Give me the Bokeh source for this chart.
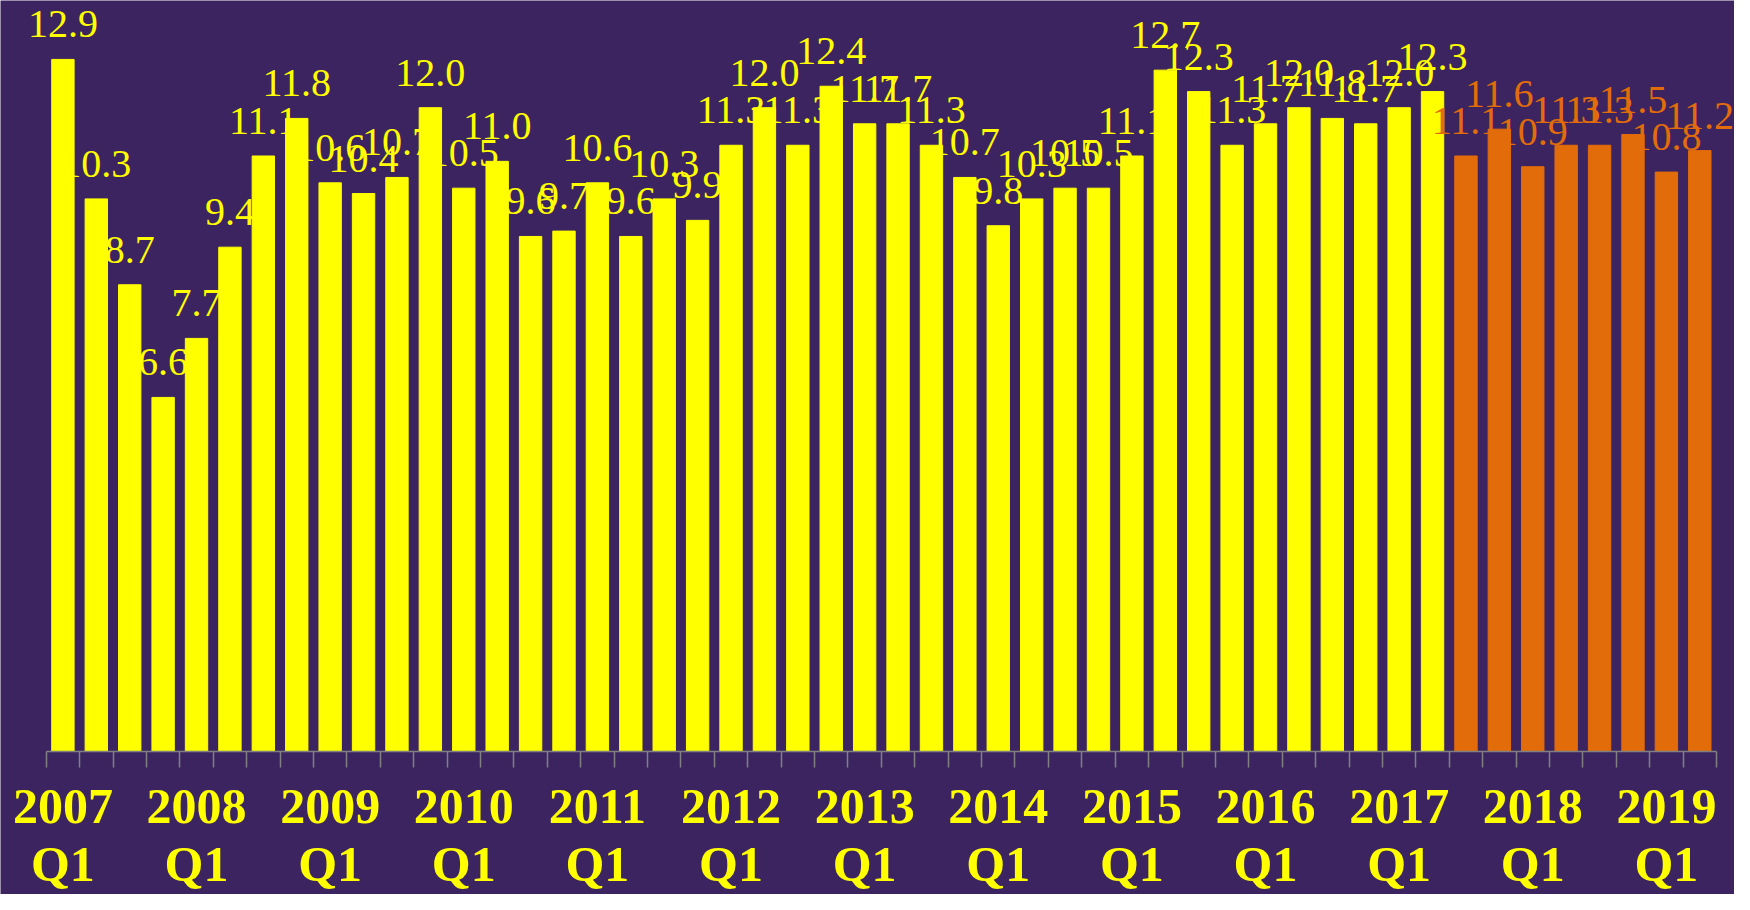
from bokeh.plotting import figure
from bokeh.models import ColumnDataSource, Range1d, FixedTicker
from bokeh.core.properties import value
from bokeh.embed import file_html
from bokeh.resources import INLINE

# ---- data ----
years = [2007, 2008, 2009, 2010, 2011, 2012, 2013, 2014, 2015, 2016, 2017, 2018, 2019]
quarters = ["Q1", "Q2", "Q3", "Q4"]
actual = [12.9, 10.3, 8.7, 6.6,
          7.7, 9.4, 11.1, 11.8,
          10.6, 10.4, 10.7, 12.0,
          10.5, 11.0, 9.6, 9.7,
          10.6, 9.6, 10.3, 9.9,
          11.3, 12.0, 11.3, 12.4,
          11.7, 11.7, 11.3, 10.7,
          9.8, 10.3, 10.5, 10.5,
          11.1, 12.7, 12.3, 11.3,
          11.7, 12.0, 11.8, 11.7,
          12.0, 12.3]
forecast = [11.1, 11.6, 10.9, 11.3, 11.3, 11.5, 10.8, 11.2]

categories = [f"{y} {q}" for y in years for q in quarters][:len(actual) + len(forecast)]

BG = "#3C2460"
YELLOW = "#FFFF00"
ORANGE = "#E36C0A"
GRAY = "#808080"
FONT = "Liberation Serif"

vals = actual + forecast
n = len(vals)
idx = list(range(n))
colors = [YELLOW] * len(actual) + [ORANGE] * len(forecast)
src = ColumnDataSource(dict(x=idx, top=vals, color=colors,
                            label=[f"{v:.1f}" for v in vals]))

W, H = 1734, 894
px_x = 33.406          # pixels per category
left_edge = 45.7       # pixel of the first category edge
px_y = 53.65           # pixels per unit
zero_y = 751.0         # pixel of the zero line

p = figure(width=W, height=H,
           x_range=Range1d(-0.5 - left_edge / px_x, -0.5 + (W - left_edge) / px_x),
           y_range=Range1d(-(H - zero_y) / px_y, zero_y / px_y),
           output_backend="svg", toolbar_location=None,
           min_border_left=0, min_border_right=0,
           min_border_top=0, min_border_bottom=0,
           background_fill_color=BG, border_fill_color=BG,
           outline_line_color=None)

p.vbar(x="x", top="top", width=0.67, source=src,
       fill_color="color", line_color="color")

p.text(x="x", y="top", text="label", source=src,
       text_align="center", text_baseline="alphabetic", y_offset=-35,
       text_font=value(FONT), text_font_size="40px", text_color="color")

p.yaxis.visible = False
p.xgrid.visible = False
p.ygrid.visible = False

q1_pos = [i for i, c in enumerate(categories) if c.endswith("Q1")]
ax = p.xaxis[0]
ax.fixed_location = 0
ax.bounds = (-0.5, n - 0.5)
ax.ticker = FixedTicker(ticks=q1_pos,
                        minor_ticks=[i - 0.5 for i in range(n + 1)])
ax.major_label_overrides = {i: categories[i].replace(" ", "\n") for i in q1_pos}
ax.axis_line_color = GRAY
ax.axis_line_width = 1.5
ax.major_tick_out = 16
ax.major_tick_in = 0
ax.major_tick_line_color = None
ax.minor_tick_out = 16
ax.minor_tick_in = 0
ax.minor_tick_line_color = GRAY
ax.minor_tick_line_width = 1.5
ax.major_label_standoff = 10
ax.major_label_text_font = FONT
ax.major_label_text_font_style = "bold"
ax.major_label_text_font_size = "50px"
ax.major_label_text_color = YELLOW
ax.major_label_text_line_height = 1.05

open("out.html", "w").write(file_html(p, INLINE))
